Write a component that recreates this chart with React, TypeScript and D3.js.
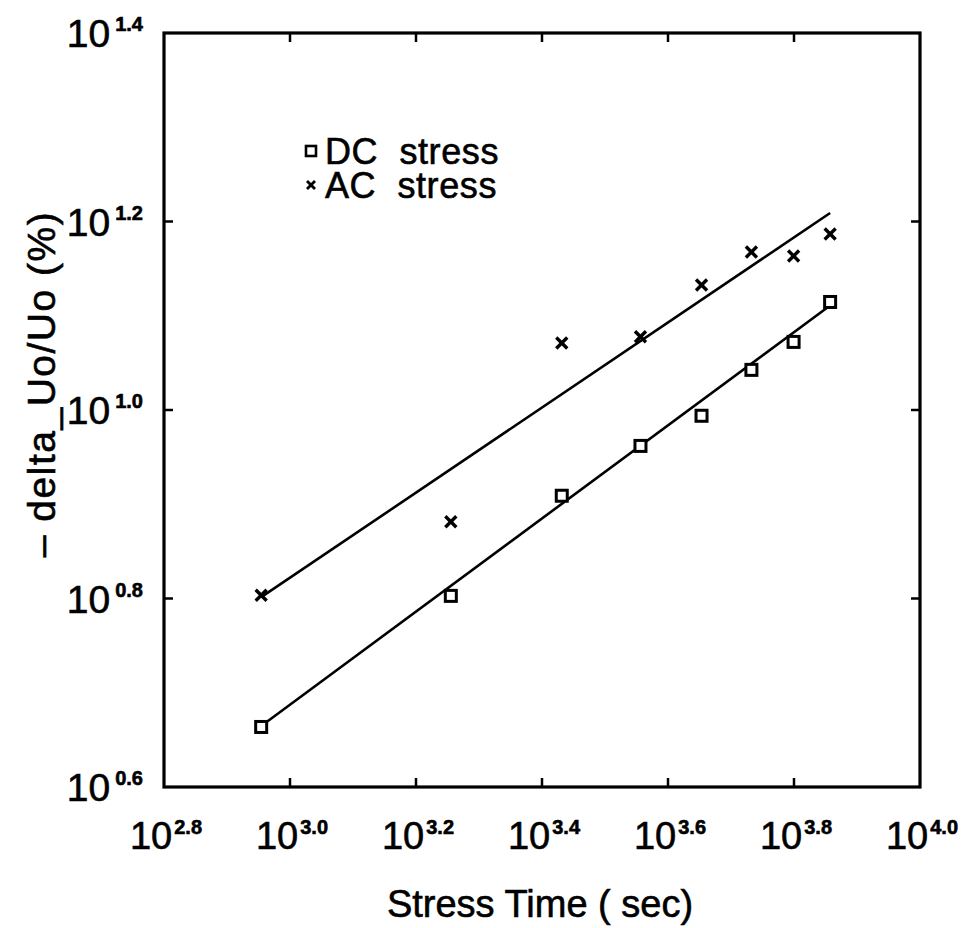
import React from "react";
import * as d3 from "d3";

// Stress time (s) and -ΔUo/Uo (%)
const stressTimes = [900, 1800, 2700, 3600, 4500, 5400, 6300, 7200];
const dcValues = [4.61, 6.35, 8.11, 9.16, 9.86, 11.03, 11.81, 13.02];
const acValues = [6.36, 7.61, 11.78, 11.96, 13.57, 14.71, 14.57, 15.37];
// fitted lines: [start, end] as [time, value]
const dcFit = [[900, 4.62], [7200, 12.91]];
const acFit = [[900, 6.33], [7200, 16.18]];

const xTickExps = ["2.8", "3.0", "3.2", "3.4", "3.6", "3.8", "4.0"];
const yTickExps = ["0.6", "0.8", "1.0", "1.2", "1.4"];
const legendLabels = ["DC  stress", "AC  stress"];
const xTitle = "Stress Time ( sec)";
const yTitle = "– delta_Uo/Uo (%)";

const W = 963;
const H = 928;
const L = 164, R = 920, T = 33, B = 787;

export default function App() {
  const x = d3.scaleLog().domain([Math.pow(10, 2.8), Math.pow(10, 4.0)]).range([L, R]);
  const y = d3.scaleLog().domain([Math.pow(10, 0.6), Math.pow(10, 1.4)]).range([B, T]);
  const line = d3.line<number[]>().x((d) => x(d[0])).y((d) => y(d[1]));
  const font = "'Liberation Sans', Arial, Helvetica, sans-serif";
  const tickLen = 9;
  const sq = 11;
  const cr = 5.5;
  const heavy = { stroke: "#000", strokeWidth: 0.6 };

  return (
    <svg
      width={W}
      height={H}
      style={{ position: "absolute", left: 0, top: 0, background: "#fff" }}
      fontFamily={font}
    >
      <rect x={0} y={0} width={W} height={H} fill="#fff" />
      {/* frame */}
      <rect x={L} y={T} width={R - L} height={B - T} fill="none" stroke="#000" strokeWidth={3.2} />
      {/* x ticks */}
      {xTickExps.map((e, i) => {
        const px = x(Math.pow(10, +e));
        return (
          <g key={"xt" + i}>
            {i > 0 && i < xTickExps.length - 1 && (
              <>
                <line x1={px} x2={px} y1={B} y2={B - tickLen} stroke="#000" strokeWidth={2.5} />
                <line x1={px} x2={px} y1={T} y2={T + tickLen} stroke="#000" strokeWidth={2.5} />
              </>
            )}
            <text x={px + 2} y={849} textAnchor="middle" fontSize={38} fill="#000" {...heavy}>
              10
              <tspan fontSize={20} fontWeight="bold" dx={2} dy={-15}>{e}</tspan>
            </text>
          </g>
        );
      })}
      {/* y ticks */}
      {yTickExps.map((e, i) => {
        const py = y(Math.pow(10, +e));
        return (
          <g key={"yt" + i}>
            {i > 0 && i < yTickExps.length - 1 && (
              <>
                <line x1={L} x2={L + tickLen} y1={py} y2={py} stroke="#000" strokeWidth={2.5} />
                <line x1={R} x2={R - tickLen} y1={py} y2={py} stroke="#000" strokeWidth={2.5} />
              </>
            )}
            <text x={143} y={py + 14} textAnchor="end" fontSize={39} fill="#000" {...heavy}>
              10
              <tspan fontSize={20} fontWeight="bold" dx={5} dy={-16}>{e}</tspan>
            </text>
          </g>
        );
      })}
      {/* fit lines */}
      <path d={line(dcFit) || ""} fill="none" stroke="#000" strokeWidth={2.6} />
      <path d={line(acFit) || ""} fill="none" stroke="#000" strokeWidth={2.6} />
      {/* DC squares */}
      {stressTimes.map((t, i) => (
        <rect
          key={"dc" + i}
          x={x(t) - sq / 2}
          y={y(dcValues[i]) - sq / 2}
          width={sq}
          height={sq}
          fill="#fff"
          stroke="#000"
          strokeWidth={3}
        />
      ))}
      {/* AC crosses */}
      {stressTimes.map((t, i) => {
        const cx = x(t);
        const cy = y(acValues[i]);
        return (
          <g key={"ac" + i} stroke="#000" strokeWidth={3.4}>
            <line x1={cx - cr} y1={cy - cr} x2={cx + cr} y2={cy + cr} />
            <line x1={cx - cr} y1={cy + cr} x2={cx + cr} y2={cy - cr} />
          </g>
        );
      })}
      {/* legend */}
      <rect x={306} y={146} width={10} height={10} fill="#fff" stroke="#000" strokeWidth={2.6} />
      <text x={325} y={164} fontSize={36} letterSpacing={0.6} fill="#000" style={{ whiteSpace: "pre" }} {...heavy}>
        {legendLabels[0]}
      </text>
      <g stroke="#000" strokeWidth={2.8}>
        <line x1={307} y1={181} x2={315} y2={189} />
        <line x1={307} y1={189} x2={315} y2={181} />
      </g>
      <text x={325} y={198} fontSize={36} letterSpacing={0.6} fill="#000" style={{ whiteSpace: "pre" }} {...heavy}>
        {legendLabels[1]}
      </text>
      {/* axis titles */}
      <text x={540} y={917} textAnchor="middle" fontSize={38} fill="#000" {...heavy}>
        {xTitle}
      </text>
      <text
        transform={`translate(55, 384) rotate(-90)`}
        textAnchor="middle"
        fontSize={39}
        letterSpacing={1.5}
        fill="#000"
        {...heavy}
      >
        {yTitle}
      </text>
    </svg>
  );
}
